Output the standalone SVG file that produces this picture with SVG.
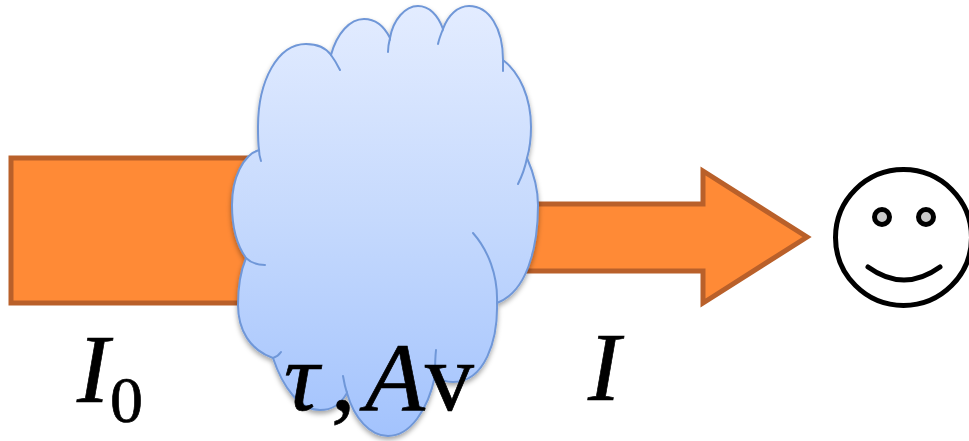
<svg xmlns="http://www.w3.org/2000/svg" width="969" height="441" viewBox="0 0 969 441">
<style>
.beam{fill:#ff8a36;stroke:#b9602a;stroke-width:5}
.edge{fill:none;stroke:#6f97d8;stroke-width:2;stroke-linecap:round}
.face{fill:none;stroke:#000;stroke-width:5;stroke-linecap:round}
.eye{fill:#ccc;stroke:#000;stroke-width:5}
.t{font-family:"Liberation Serif",serif;fill:#000;stroke:#000;stroke-width:0.7}
</style>
<defs>
<linearGradient id="cloudFill" x1="0" y1="0" x2="0" y2="1"><stop offset="0" stop-color="#e3ecff"/><stop offset="0.5" stop-color="#c5d9fd"/><stop offset="1" stop-color="#a3c3fd"/></linearGradient>
<filter id="shadow" x="-10%" y="-10%" width="120%" height="120%"><feDropShadow dx="0" dy="3" stdDeviation="2.5" flood-color="#000" flood-opacity="0.35"/></filter>
</defs>
<g id="beam-in"><rect class="beam" x="11" y="158" width="250" height="145"/></g>
<g id="beam-out"><path class="beam" d="M500 204H703V171L807 237L703 303V271H500Z"/></g>
<g id="cloud">
<path fill="url(#cloudFill)" stroke="#6f97d8" stroke-width="2" filter="url(#shadow)" d="M259 150C258 143 258 135 258 127C258 80 278 44 306 44C317 44 326 48 331 55C337 33 350 19 364 19C375 19 384 26 390 38C393 20 405 6 418 6C429 6 438 15 443 29C448 15 458 6 469 6C489 6 503 28 503 60C520 73 531 98 531 127C531 138 530 148 527 158C534 174 538 190 538 205C538 250 526 292 497 303C498 340 485 382 453 382C446 382 440 380 435 376C428 410 410 436 388 436C370 436 354 418 347 393C340 405 332 410 320 410C300 410 283 388 273 358C250 350 238 330 238 305C238 288 241 270 246 258C236 244 232 226 232 205C232 178 243 155 259 150Z"/>
<path class="edge" d="M331 55C334 59 337 64 340 70M390 38C389 42 388 47 388 52M443 29C441 34 439 39 438 44M503 60C503 64 503 67 503 71M527 158C525 168 522 176 518 184M473 233C488 250 498 275 497 303M435 376C435 368 435 359 436 350M347 393C345 387 344 382 343 376M273 358C276 357 279 355 281 352M246 258C250 262 257 265 265 265M259 150C259 154 260 158 261 161"/>
</g>
<g id="smiley">
<circle cx="903.5" cy="237.5" r="68" fill="#fff" stroke="#000" stroke-width="5"/>
<circle class="eye" cx="882" cy="217" r="7.5"/>
<circle class="eye" cx="926" cy="217" r="7.5"/>
<path class="face" d="M868 267Q904 293 940 267"/>
</g>
<g id="labels">
<text class="t" x="77" y="402" font-size="97" font-style="italic">I</text>
<text class="t" x="110" y="422" font-size="66">0</text>
<text class="t" x="284" y="410" font-size="98" font-style="italic">τ</text>
<text class="t" x="331" y="410" font-size="98">,</text>
<text class="t" x="365" y="410" font-size="98" font-style="italic">A</text>
<text class="t" x="425" y="410" font-size="98">v</text>
<text class="t" x="588" y="400" font-size="97" font-style="italic">I</text>
</g>
</svg>
